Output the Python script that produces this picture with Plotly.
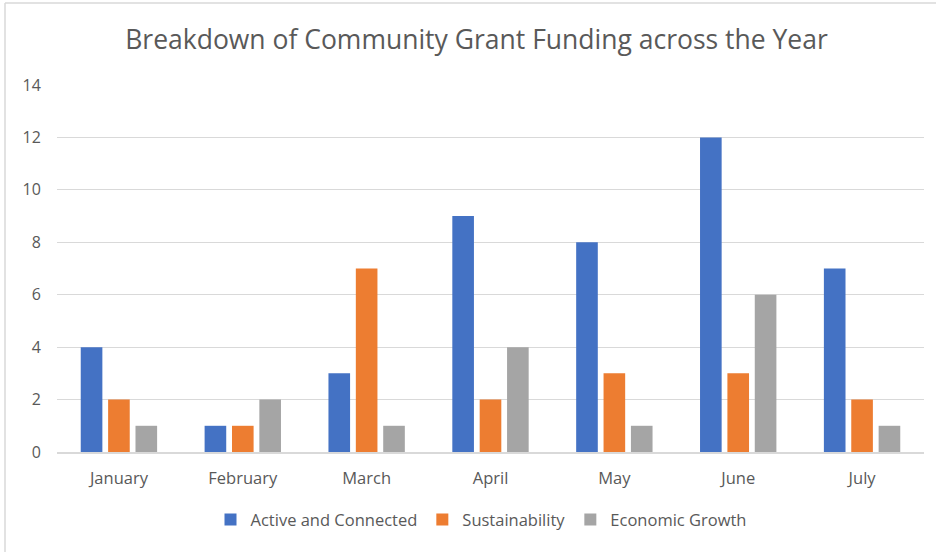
import plotly.graph_objects as go

months = ["January", "February", "March", "April", "May", "June", "July"]
active = [4, 1, 3, 9, 8, 12, 7]
sustain = [2, 1, 7, 2, 3, 3, 2]
econ = [1, 2, 1, 4, 1, 6, 1]
series_names = ["Active and Connected", "Sustainability", "Economic Growth"]
colors = ["#4472C4", "#ED7D31", "#A5A5A5"]
y_ticks = [0, 2, 4, 6, 8, 10, 12, 14]

FONT = "Open Sans"
TXT = "#595959"

fig = go.Figure()
for name, vals, col in zip(series_names, [active, sustain, econ], colors):
    fig.add_trace(go.Bar(x=months, y=vals, name=name, marker=dict(color=col, line=dict(width=0))))

PW, PH = 867, 367
fig.update_layout(
    width=936, height=552,
    paper_bgcolor="white", plot_bgcolor="white",
    margin=dict(l=57, r=12, t=85, b=100),
    barmode="group", bargap=0.337, bargroupgap=0.21,
    font=dict(family=FONT, color=TXT, size=16),
    title=dict(text="Breakdown of Community Grant Funding across the Year",
               x=476.5 / 936, xref="container", xanchor="center",
               y=1 - 40 / 552, yref="container", yanchor="middle",
               font=dict(family=FONT, size=26.5, color=TXT)),
    xaxis=dict(showgrid=False, showline=True, linecolor="#D9D9D9", linewidth=1.5,
               ticks="outside", ticklen=10, tickcolor="rgba(0,0,0,0)",
               tickfont=dict(size=16.5, color=TXT)),
    yaxis=dict(range=[0, 14], tickvals=y_ticks, showgrid=True, gridcolor="#D9D9D9",
               gridwidth=1, zeroline=False, showline=False,
               ticks="outside", ticklen=12, tickcolor="rgba(0,0,0,0)",
               tickfont=dict(size=16, color=TXT)),
    legend=dict(orientation="h", x=(481 - 57) / PW, xanchor="center", y=-0.185, yanchor="middle",
                font=dict(size=16.5, color=TXT), itemwidth=30, traceorder="normal"),
)
top = (452 - 3) / PH
left = (5 - 57) / PW
fig.add_shape(type="line", xref="paper", yref="paper", x0=left, x1=left,
              y0=-1.0, y1=top, line=dict(color="#D9D9D9", width=1.5))
fig.add_shape(type="line", xref="paper", yref="paper", x0=left, x1=1.2,
              y0=top, y1=top, line=dict(color="#D9D9D9", width=1.5))

fig.write_html("out.html")
